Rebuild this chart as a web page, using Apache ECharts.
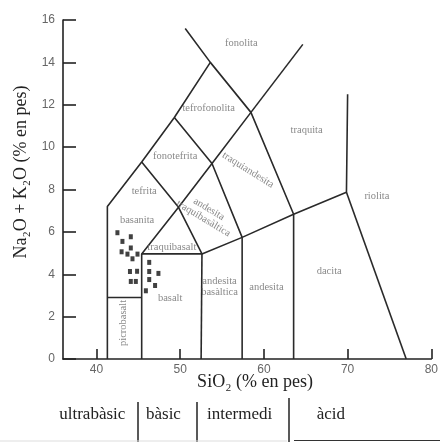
<!DOCTYPE html>
<html><head><meta charset="utf-8">
<script src="https://cdn.jsdelivr.net/npm/echarts@6/dist/echarts.min.js"></script>
<style>html,body{margin:0;padding:0;background:#fff}#c{width:441px;height:442px}</style>
</head><body><div id="c"></div>
<script>
// Axis ticks
const xTickValues = [40, 50, 60, 70, 80];
const yTickValues = [0, 2, 4, 6, 8, 10, 12, 14, 16];

// Sample points (SiO2, Na2O+K2O)
const sampleSiO2 = [42.5, 44.1, 43.1, 44.1, 43.0, 43.7, 44.3, 44.9, 46.3, 44.0, 44.85, 46.3, 47.4, 44.1, 44.7, 46.3, 47.0, 45.9];
const sampleAlk  = [5.96, 5.77, 5.55, 5.24, 5.06, 4.95, 4.73, 4.95, 4.56, 4.13, 4.14, 4.13, 4.04, 3.66, 3.66, 3.75, 3.47, 3.22];

// Field boundaries (polylines, [SiO2, alkalis])
const bLeftDiag      = [[41.3, 0], [41.3, 7.2], [45.4, 9.3], [49.3, 11.4], [53.6, 14.0]];
const bPhonolite     = [[50.6, 15.6], [53.6, 14.0], [58.45, 11.64], [63.55, 6.83]];
const bTrachyte      = [[58.45, 11.64], [64.65, 14.85]];
const bTrachyDiag    = [[45.4, 4.96], [49.8, 7.16], [53.8, 9.23], [58.45, 11.64]];
const bTephrite      = [[45.4, 9.3], [49.8, 7.16], [52.6, 4.96]];
const bPhonotephrite = [[49.3, 11.4], [53.8, 9.23], [57.4, 5.74]];
const bPicrobasalt   = [[41.3, 2.9], [45.4, 2.9]];
const bBasaltStep    = [[45.4, 0], [45.4, 4.96], [52.6, 4.96], [57.4, 5.74], [63.55, 6.83], [69.86, 7.87], [70.0, 12.5]];
const bBasaltRight   = [[52.5, 0], [52.6, 4.96]];
const bAndesite      = [[57.4, 0], [57.4, 5.74]];
const bDacite        = [[63.55, 0], [63.55, 6.83]];
const bRhyolite      = [[69.86, 7.87], [77.0, 0]];

// Field names and anchors
const fieldNames = ['fonolita', 'tefrofonolita', 'fonotefrita', 'tefrita', 'basanita', 'traquibasalt',
  'andesita\ntraquibasàltica', 'traquiandesita', 'traquita', 'riolita', 'dacita', 'andesita',
  'andesita\nbasàltica', 'basalt', 'picrobasalt'];
const fieldSiO2 = [57.3, 53.4, 49.4, 45.7, 44.85, 49.0, 53.1, 58.1, 65.1, 73.5, 67.8, 60.3, 54.7, 48.8, 43.2];
const fieldAlk  = [14.9, 11.85, 9.58, 7.94, 6.53, 5.29, 6.85, 8.92, 10.8, 7.66, 4.12, 3.41, 3.42, 2.89, 1.70];
const fieldRotate = {'andesita\ntraquibasàltica': -31, 'traquiandesita': -32, 'picrobasalt': 90};

// Silica classes
const classNames = ['ultrabàsic', 'bàsic', 'intermedi', 'àcid'];
const classBounds = [45, 52, 63];

const chart = echarts.init(document.getElementById('c'), null, {renderer: 'canvas'});

const boundaries = [bLeftDiag, bPhonolite, bTrachyte, bTrachyDiag, bTephrite, bPhonotephrite,
  bPicrobasalt, bBasaltStep, bBasaltRight, bAndesite, bDacite, bRhyolite];

const series = boundaries.map(b => ({
  type: 'line', data: b, symbol: 'none', silent: true,
  lineStyle: {color: '#2a2a2a', width: 1.6}, z: 2
}));

series.push({
  type: 'scatter', symbol: 'rect', symbolSize: [4, 5],
  itemStyle: {color: '#111'},
  data: sampleSiO2.map((x, i) => [x, sampleAlk[i]]), z: 4
});

series.push({
  type: 'scatter', symbolSize: 0, silent: true, z: 3,
  label: {show: true, position: 'inside', formatter: p => p.name,
    fontFamily: 'Liberation Serif', fontSize: 10.5, color: '#6a6a6a', lineHeight: 11},
  data: fieldNames.map((n, i) => ({name: n, value: [fieldSiO2[i], fieldAlk[i]],
    label: {rotate: fieldRotate[n] || 0}}))
});

chart.setOption({
  animation: false,
  grid: {left: 63, right: 6, top: 20, bottom: 83},
  xAxis: {
    type: 'value', min: 36, max: 80,
    axisLine: {show: true, lineStyle: {color: '#222', width: 1.6}},
    axisTick: {show: true, inside: true, length: 10, customValues: xTickValues, lineStyle: {color: '#222', width: 1.6}},
    axisLabel: {customValues: xTickValues, color: '#666', fontFamily: 'Liberation Sans', fontSize: 12, margin: 5},
    splitLine: {show: false}
  },
  yAxis: {
    type: 'value', min: 0, max: 16, interval: 2,
    name: 'Na₂O + K₂O (% en pes)', nameLocation: 'middle', nameRotate: 90, nameGap: 30,
    nameTextStyle: {fontFamily: 'Liberation Serif', fontSize: 18, color: '#222', padding: [0, 0, 0, 35]},
    axisLine: {show: true, lineStyle: {color: '#222', width: 1.6}},
    axisTick: {show: true, inside: true, length: 13, lineStyle: {color: '#222', width: 1.6}},
    axisLabel: {color: '#666', fontFamily: 'Liberation Sans', fontSize: 12, margin: 8},
    splitLine: {show: false}
  },
  series: series
});

// X title and silica class row
const px = v => chart.convertToPixel({xAxisIndex: 0}, v);
const classCenters = [39.5, 48.0, 57.1, 68.0];
const graphics = [
  {type: 'text', x: 255, y: 382, style: {text: 'SiO₂ (% en pes)', font: '18px "Liberation Serif"', fill: '#222', align: 'center', verticalAlign: 'middle'}}
];
classNames.forEach((n, i) => {
  graphics.push({type: 'text', x: px(classCenters[i]), y: 415,
    style: {text: n, font: '17px "Liberation Serif"', fill: '#222', align: 'center', verticalAlign: 'middle'}});
});
classBounds.forEach((b, i) => {
  const x = Math.round(px(b));
  graphics.push({type: 'line', shape: {x1: x, y1: i === 2 ? 398 : 402, x2: x, y2: 442}, style: {stroke: '#222', lineWidth: 1.5}});
});
graphics.push({type: 'line', shape: {x1: 0, y1: 441, x2: px(classBounds[2]) - 2, y2: 441}, style: {stroke: '#ddd', lineWidth: 1}});
graphics.push({type: 'line', shape: {x1: px(classBounds[2]) + 5, y1: 440.5, x2: 440, y2: 440.5}, style: {stroke: '#333', lineWidth: 1.2}});
chart.setOption({graphic: graphics});
</script>
</body></html>
